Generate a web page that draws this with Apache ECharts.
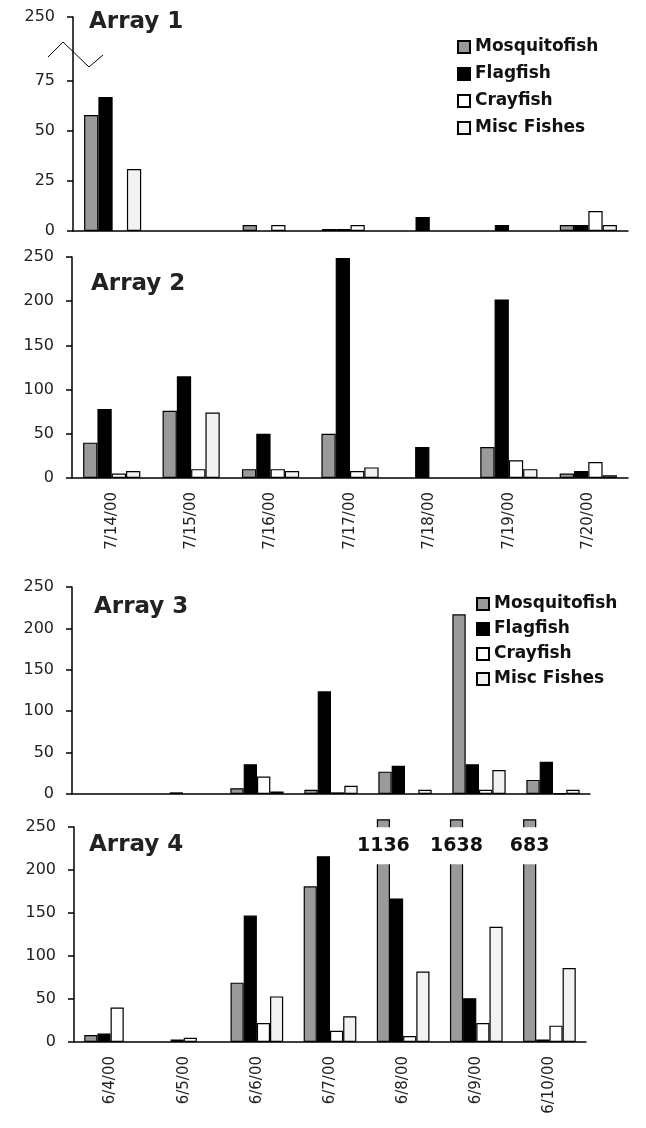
<!DOCTYPE html>
<html>
<head>
<meta charset="utf-8">
<script src="https://cdn.jsdelivr.net/npm/echarts@6/dist/echarts.min.js"></script>
<style>
  html, body { margin: 0; padding: 0; background: #fff; }
  #chart { width: 646px; height: 1128px; }
</style>
</head>
<body>
<div id="chart"></div>
<script>
// categories
var datesJuly = ['7/14/00', '7/15/00', '7/16/00', '7/17/00', '7/18/00', '7/19/00', '7/20/00'];
var datesJune = ['6/4/00', '6/5/00', '6/6/00', '6/7/00', '6/8/00', '6/9/00', '6/10/00'];
var species = ['Mosquitofish', 'Flagfish', 'Crayfish', 'Misc Fishes'];

// Array 1
var a1Mosquito = [58, 0, 3, 1, 0, 0, 3];
var a1Flag = [67, 0, 0, 1, 7, 3, 3];
var a1Cray = [0, 0, 3, 3, 0, 0, 10];
var a1Misc = [31, 0, 0, 0, 0, 0, 3];
// Array 2
var a2Mosquito = [40, 76, 10, 50, 0, 35, 5];
var a2Flag = [78, 115, 50, 249, 35, 202, 8];
var a2Cray = [5, 10, 10, 8, 0, 20, 18];
var a2Misc = [8, 74, 8, 12, 0, 10, 3];
// Array 3
var a3Mosquito = [0, 0, 7, 5, 27, 217, 17];
var a3Flag = [0, 2, 36, 124, 34, 36, 39];
var a3Cray = [0, 0, 21, 2, 0, 5, 1];
var a3Misc = [0, 0, 3, 10, 5, 29, 5];
// Array 4 (mosquitofish on 6/8-6/10 go off the scale)
var a4Mosquito = [8, 0, 69, 181, 1136, 1638, 683];
var a4Flag = [10, 3, 147, 216, 167, 51, 3];
var a4Cray = [40, 5, 22, 13, 7, 22, 19];
var a4Misc = [0, 0, 53, 30, 82, 134, 86];

// y ticks
var ticksArray1 = [0, 25, 50, 75];
var array1Top = 250;

var colors = ['#9a9a9a', '#000000', '#ffffff', '#f2f2f2'];
var font = 'DejaVu Sans, Arial, sans-serif';

var myChart = echarts.init(document.getElementById('chart'));

function axisLineStyle() {
	return { color: '#000', width: 1.5 };
}

function makeX(idx, cats, showLabels) {
	return {
		type: 'category',
		gridIndex: idx,
		data: cats,
		axisLine: { lineStyle: axisLineStyle() },
		axisTick: { length: 6, lineStyle: axisLineStyle() },
		axisLabel: {
			show: showLabels,
			rotate: 90,
			margin: 14,
			fontFamily: font,
			fontSize: 15,
			color: '#222'
		}
	};
}

function makeY(idx, extra) {
	var y = {
		type: 'value',
		gridIndex: idx,
		min: 0,
		max: 250,
		interval: 50,
		splitLine: { show: false },
		axisLine: { show: true, lineStyle: axisLineStyle() },
		axisTick: { show: true, length: 6, lineStyle: axisLineStyle() },
		axisLabel: { margin: 18, fontFamily: font, fontSize: 16, color: '#222' }
	};
	for (var k in extra) y[k] = extra[k];
	return y;
}

function makeSeries(idx, arrays) {
	return arrays.map(function(arr, i) {
		return {
			name: species[i],
			type: 'bar',
			xAxisIndex: idx,
			yAxisIndex: idx,
			// empty counts are left out, as in the original
			data: arr.map(function(v) { return v === 0 ? '-' : v; }),
			barGap: 0,
			barCategoryGap: '28%',
			itemStyle: { color: colors[i], borderColor: '#000', borderWidth: 1.2 }
		};
	});
}

// Array 1 axis: 0-75 then a break up to 250 at the top
var a1Max = 107;
var a1LabelValues = ticksArray1.concat([a1Max]);

// Array 4: capped bars with the real count written in the break
var a4Cap = 259;
var a4MosquitoShown = a4Mosquito.map(function(v) { return v > 250 ? a4Cap : v; });

var series = []
	.concat(makeSeries(0, [a1Mosquito, a1Flag, a1Cray, a1Misc]))
	.concat(makeSeries(1, [a2Mosquito, a2Flag, a2Cray, a2Misc]))
	.concat(makeSeries(2, [a3Mosquito, a3Flag, a3Cray, a3Misc]))
	.concat(makeSeries(3, [a4MosquitoShown, a4Flag, a4Cray, a4Misc]));

var a4Gray = series[12];
a4Gray.clip = false;
a4Gray.z = 3;
a4Gray.data = a4Mosquito.map(function(v, i) {
	if (v > 250) return { value: a4MosquitoShown[i], label: { show: true } };
	return v === 0 ? '-' : v;
});
a4Gray.label = {
	show: false,
	position: 'insideTop',
	distance: 8,
	fontFamily: font,
	fontWeight: 'bold',
	fontSize: 19,
	color: '#111',
	backgroundColor: '#fff',
	padding: [9, 3, 9, 3],
	formatter: function(p) {
		return String(a4Mosquito[p.dataIndex]);
	}
};

var titleStyle = { fontFamily: font, fontWeight: 'bold', fontSize: 23, color: '#222' };
var legendText = { fontFamily: font, fontWeight: 'bold', fontSize: 17, color: '#111', lineHeight: 18 };

var option = {
	animation: false,
	backgroundColor: '#fff',
	title: [
		{ text: 'Array 1', left: 84, top: 6, textStyle: titleStyle },
		{ text: 'Array 2', left: 86, top: 268, textStyle: titleStyle },
		{ text: 'Array 3', left: 89, top: 591, textStyle: titleStyle },
		{ text: 'Array 4', left: 84, top: 829, textStyle: titleStyle }
	],
	legend: [
		{
			seriesIndex: [0, 1, 2, 3],
			data: species,
			orient: 'vertical',
			left: 452,
			top: 33,
			itemGap: 9,
			itemWidth: 12,
			itemHeight: 12,
			icon: 'rect',
			textStyle: legendText
		},
		{
			data: species,
			orient: 'vertical',
			left: 471,
			top: 590,
			itemGap: 7,
			itemWidth: 12,
			itemHeight: 12,
			icon: 'rect',
			textStyle: legendText
		}
	],
	grid: [
		{ left: 73, top: 17, right: 18, height: 214 },
		{ left: 72, top: 257, right: 18, height: 221 },
		{ left: 72, top: 587, right: 56, height: 207 },
		{ left: 74, top: 827, right: 60, height: 215 }
	],
	xAxis: [
		makeX(0, datesJuly, false),
		makeX(1, datesJuly, true),
		makeX(2, datesJune, false),
		makeX(3, datesJune, true)
	],
	yAxis: [
		makeY(0, {
			max: a1Max,
			interval: 25,
			axisTick: { show: true, length: 6, lineStyle: axisLineStyle(), customValues: a1LabelValues },
			axisLabel: {
				margin: 18, fontFamily: font, fontSize: 16, color: '#222',
				customValues: a1LabelValues,
				formatter: function(v) { return v === a1Max ? String(array1Top) : String(v); }
			}
		}),
		makeY(1, {}),
		makeY(2, {}),
		makeY(3, {})
	],
	graphic: [
		{
			type: 'polyline',
			z: 100,
			shape: { points: [[48, 57], [63, 42], [89, 67], [103, 55]] },
			style: { stroke: '#000', lineWidth: 1, fill: null }
		}
	],
	series: series
};
myChart.setOption(option);
</script>
</body>
</html>
